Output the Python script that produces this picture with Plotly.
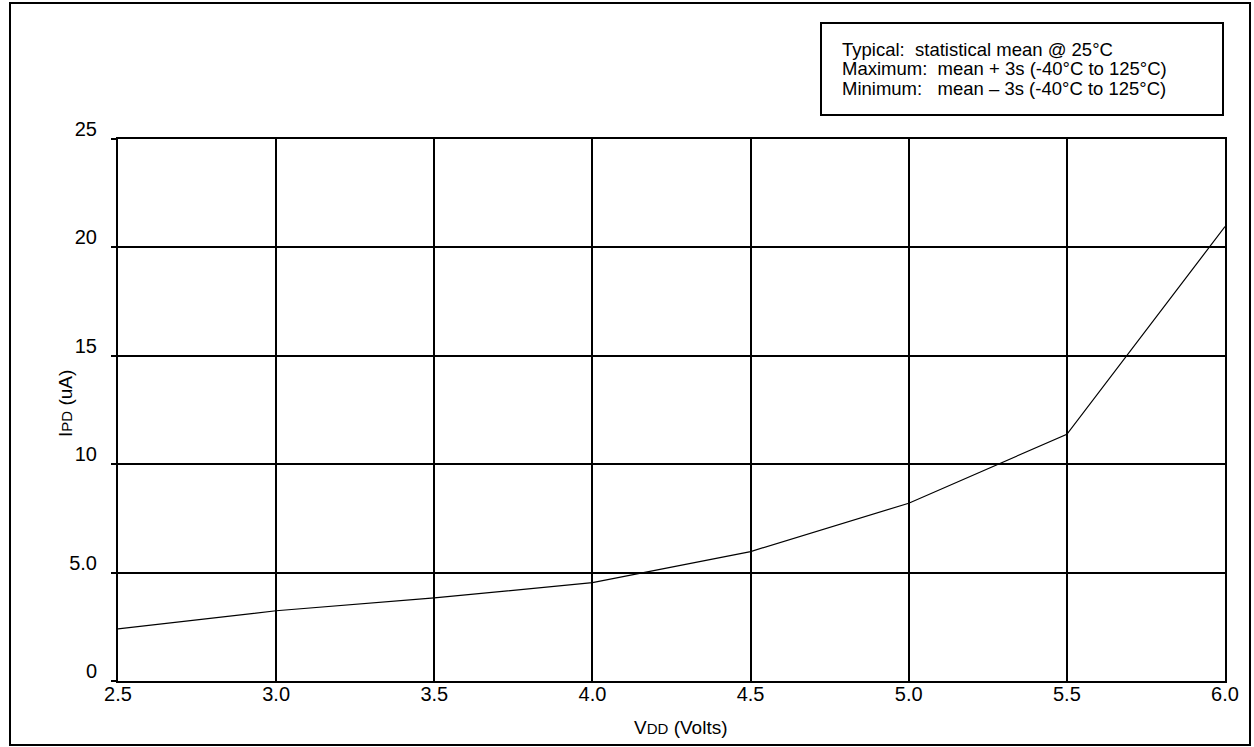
import plotly.graph_objects as go

# Power-down current vs supply voltage (typical curve)
vdd = [2.5, 3.0, 3.5, 4.0, 4.5, 5.0, 5.5, 6.0]
ipd = [2.40, 3.24, 3.83, 4.54, 5.97, 8.20, 11.38, 20.96]

x_ticks = [2.5, 3.0, 3.5, 4.0, 4.5, 5.0, 5.5, 6.0]
x_tick_text = ["2.5", "3.0", "3.5", "4.0", "4.5", "5.0", "5.5", "6.0"]
y_ticks = [0, 5, 10, 15, 20, 25]
y_tick_text = ["0", "5.0", "10", "15", "20", "25"]

note_lines = [
    "Typical:\u00a0\u00a0statistical mean @ 25°C",
    "Maximum:\u00a0\u00a0mean + 3s (-40°C to 125°C)",
    "Minimum:\u00a0\u00a0\u00a0mean \u2013 3s (-40°C to 125°C)",
]

W, H = 1254, 747
L, R, T, B = 118, 29, 139, 66
pw, ph = W - L - R, H - T - B


def px(x):
    return (x - L) / pw


def py(y):
    return (H - B - y) / ph


FONT = "Liberation Sans, Arial, Helvetica, sans-serif"

fig = go.Figure()
fig.add_trace(go.Scatter(x=vdd, y=ipd, mode="lines",
                         line=dict(color="black", width=1.2),
                         showlegend=False, hoverinfo="skip"))

fig.update_layout(
    width=W, height=H,
    margin=dict(l=L, r=R, t=T, b=B),
    paper_bgcolor="white", plot_bgcolor="white",
    font=dict(family=FONT, color="black", size=20),
    xaxis=dict(range=[2.5, 6.0], tickvals=x_ticks, ticktext=x_tick_text,
               showgrid=True, gridcolor="black", gridwidth=2,
               showline=True, linecolor="black", linewidth=2, mirror=True,
               ticks="", zeroline=False, ticklabelstandoff=-6),
    yaxis=dict(range=[0, 25], tickvals=y_ticks, ticktext=y_tick_text,
               showgrid=True, gridcolor="black", gridwidth=2,
               showline=True, linecolor="black", linewidth=2, mirror=True,
               ticks="outside", ticklen=5, tickwidth=2, tickcolor="black",
               zeroline=False, ticklabelshift=-10, ticklabelstandoff=10),
)

# axis titles placed as annotations
fig.add_annotation(xref="paper", yref="paper", x=px(680), y=py(727),
                   text="V<span style='font-size:15px'>DD</span> (Volts)",
                   showarrow=False, xanchor="center", yanchor="middle",
                   font=dict(size=19))
fig.add_annotation(xref="paper", yref="paper", x=px(65), y=py(404),
                   text="I<span style='font-size:15px'>PD</span> (uA)",
                   showarrow=False, xanchor="center", yanchor="middle",
                   textangle=-90, font=dict(size=19))

# outer frame around the whole figure
fig.add_shape(type="rect", xref="paper", yref="paper",
              x0=px(10), x1=px(1250), y0=py(745), y1=py(3),
              line=dict(color="black", width=2))

# note box in the top right
fig.add_shape(type="rect", xref="paper", yref="paper",
              x0=px(821), x1=px(1223), y0=py(115), y1=py(23),
              line=dict(color="black", width=2))
for i, line in enumerate(note_lines):
    fig.add_annotation(xref="paper", yref="paper", x=px(840), y=py(50 + 19 * i),
                       text=line, showarrow=False, xanchor="left", yanchor="middle",
                       font=dict(size=18.5))

fig.write_html("out.html", config={"displayModeBar": False},
               post_script="document.body.style.margin='0';")
